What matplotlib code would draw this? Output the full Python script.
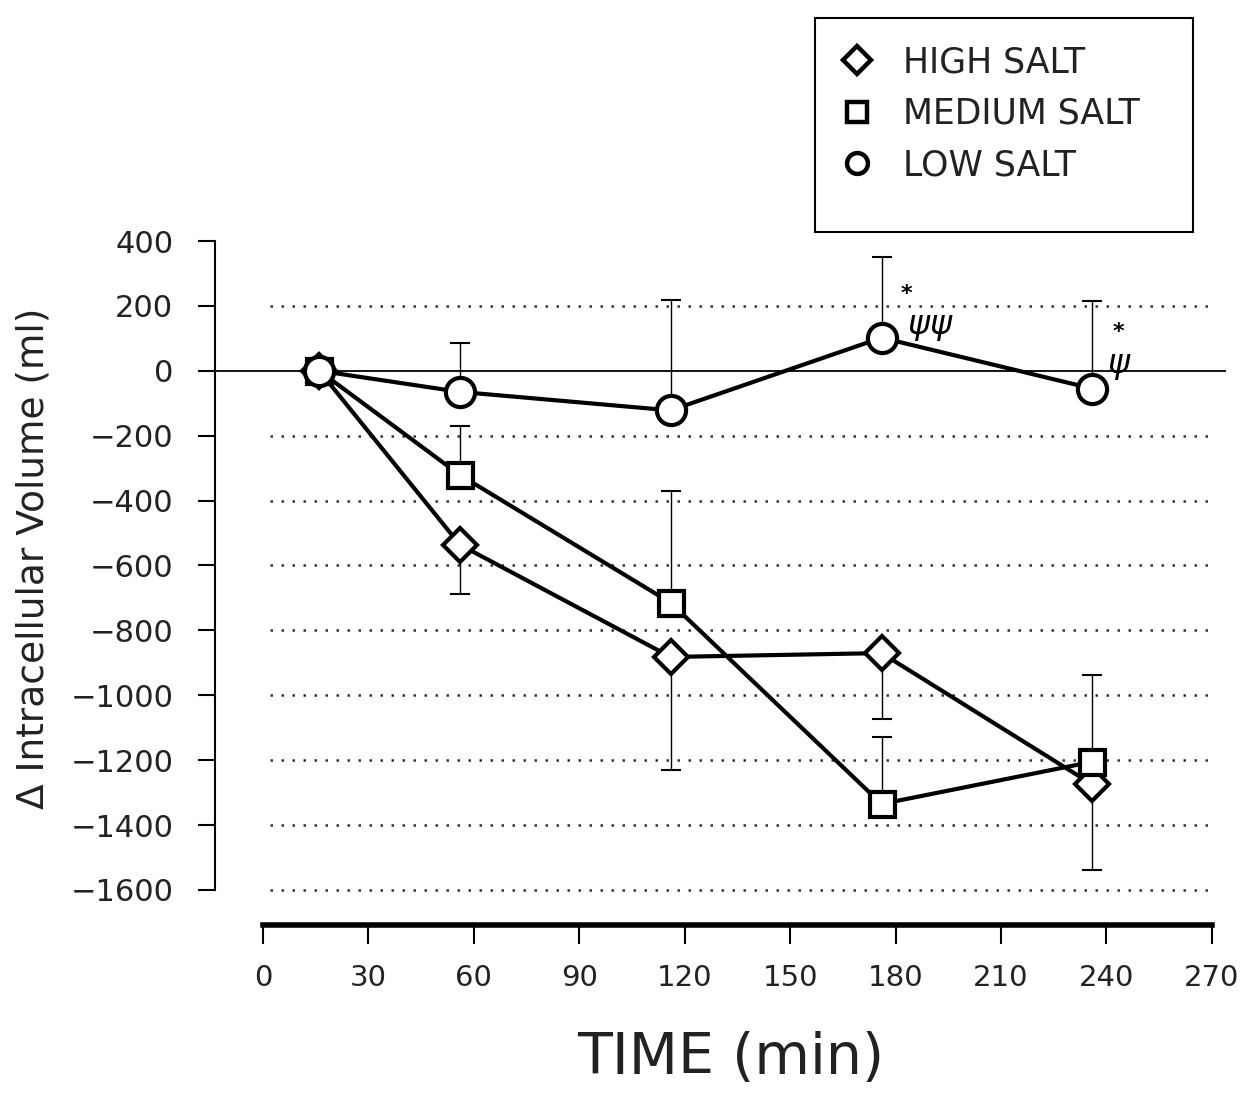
import matplotlib.pyplot as plt
from matplotlib.lines import Line2D
from matplotlib.patches import Rectangle

# sampling times (min)
time = [16, 56, 116, 176, 236]

# change in intracellular volume (ml)
high_salt = [0, -536, -882, -870, -1275]
medium_salt = [0, -321, -715, -1335, -1205]
low_salt = [0, -65, -122, 102, -55]

# one-sided SD bars: high goes down, medium and low go up
high_err = [0, 153, 347, 204, 265]
medium_err = [0, 150, 345, 206, 268]
low_err = [0, 150, 340, 250, 270]

grid_vals = [200, -200, -400, -600, -800, -1000, -1200, -1400, -1600]
yticks = [400, 200, 0, -200, -400, -600, -800, -1000, -1200, -1400, -1600]
xticks = [0, 30, 60, 90, 120, 150, 180, 210, 240, 270]

fig = plt.figure(figsize=(12.43, 10.94), dpi=100)
ax = fig.add_axes([0.173, 0.1545, 0.8133, 0.6252])

ax.set_xlim(-13.66, 274)
ax.set_ylim(-1708, 400)

# dotted reference lines and the solid zero line
ax.hlines(grid_vals, 2, 270, colors='#333333', linewidth=1.8, linestyles=(0, (1, 3.4)))
ax.axhline(0, color='black', linewidth=1.3)

zeros = [0] * len(time)
ax.errorbar(time, high_salt, yerr=[high_err, zeros], fmt='none', ecolor='black',
            elinewidth=1.0, capsize=7, capthick=1.5, zorder=2)
ax.errorbar(time, medium_salt, yerr=[zeros, medium_err], fmt='none', ecolor='black',
            elinewidth=1.0, capsize=7, capthick=1.5, zorder=2)
ax.errorbar(time, low_salt, yerr=[zeros, low_err], fmt='none', ecolor='black',
            elinewidth=1.0, capsize=7, capthick=1.5, zorder=2)

ax.plot(time, high_salt, color='black', linewidth=3, marker='D', markersize=17,
        markerfacecolor='white', markeredgewidth=3, zorder=4)
ax.plot(time, medium_salt, color='black', linewidth=3, marker='s', markersize=18,
        markerfacecolor='white', markeredgewidth=3, zorder=4)
ax.plot(time, low_salt, color='black', linewidth=3, marker='o', markersize=21,
        markerfacecolor='white', markeredgewidth=3, zorder=5)

# significance marks
ax.text(183, 238, '*', fontsize=16, fontweight='bold', ha='center', va='center')
ax.text(190, 135, r'$\psi\psi$', fontsize=24, ha='center', va='center')
ax.text(243.5, 120, '*', fontsize=16, fontweight='bold', ha='center', va='center')
ax.text(243.5, 15, r'$\psi$', fontsize=24, ha='center', va='center')

for s in ['top', 'right']:
    ax.spines[s].set_visible(False)
ax.spines['left'].set_bounds(-1600, 400)
ax.spines['left'].set_linewidth(1.5)
ax.spines['bottom'].set_bounds(0, 270)
ax.spines['bottom'].set_linewidth(4)

ax.set_yticks(yticks)
ax.set_xticks(xticks)
ax.tick_params(axis='y', direction='out', length=12, width=1.5, pad=18, labelsize=22)
ax.tick_params(axis='x', direction='out', length=14, width=1.5, pad=14, labelsize=21)
for lab in ax.get_yticklabels() + ax.get_xticklabels():
    lab.set_fontfamily('DejaVu Sans')
    lab.set_color('#222222')

fig.text(0.027, 0.49, 'Δ Intracellular Volume (ml)', rotation=90, fontsize=27,
         ha='center', va='center', family='DejaVu Sans', color='#222222')
fig.text(0.588, 0.032, 'TIME (min)', fontsize=41, ha='center', va='center',
         family='DejaVu Sans', color='#222222')

# legend in its own box
handles = [
    Line2D([], [], linestyle='none', marker='D', markersize=14, markerfacecolor='white',
           markeredgecolor='black', markeredgewidth=3.2),
    Line2D([], [], linestyle='none', marker='s', markersize=14, markerfacecolor='white',
           markeredgecolor='black', markeredgewidth=3.2),
    Line2D([], [], linestyle='none', marker='o', markersize=15, markerfacecolor='white',
           markeredgecolor='black', markeredgewidth=3.2),
]
labels = ['HIGH SALT', 'MEDIUM SALT', 'LOW SALT']
leg = fig.legend(handles, labels, loc='upper left', bbox_to_anchor=(0.664, 0.971),
                 frameon=False, handletextpad=0.85, labelspacing=0.5,
                 handlelength=1.0, borderaxespad=0,
                 prop={'family': 'DejaVu Sans', 'size': 25})
for t in leg.get_texts():
    t.set_color('#222222')
fig.patches.append(Rectangle((0.6557, 0.788), 0.3041, 0.1956, transform=fig.transFigure,
                             fill=False, edgecolor='black', linewidth=1.5))

fig.savefig('out.png', dpi=100, facecolor='white')
